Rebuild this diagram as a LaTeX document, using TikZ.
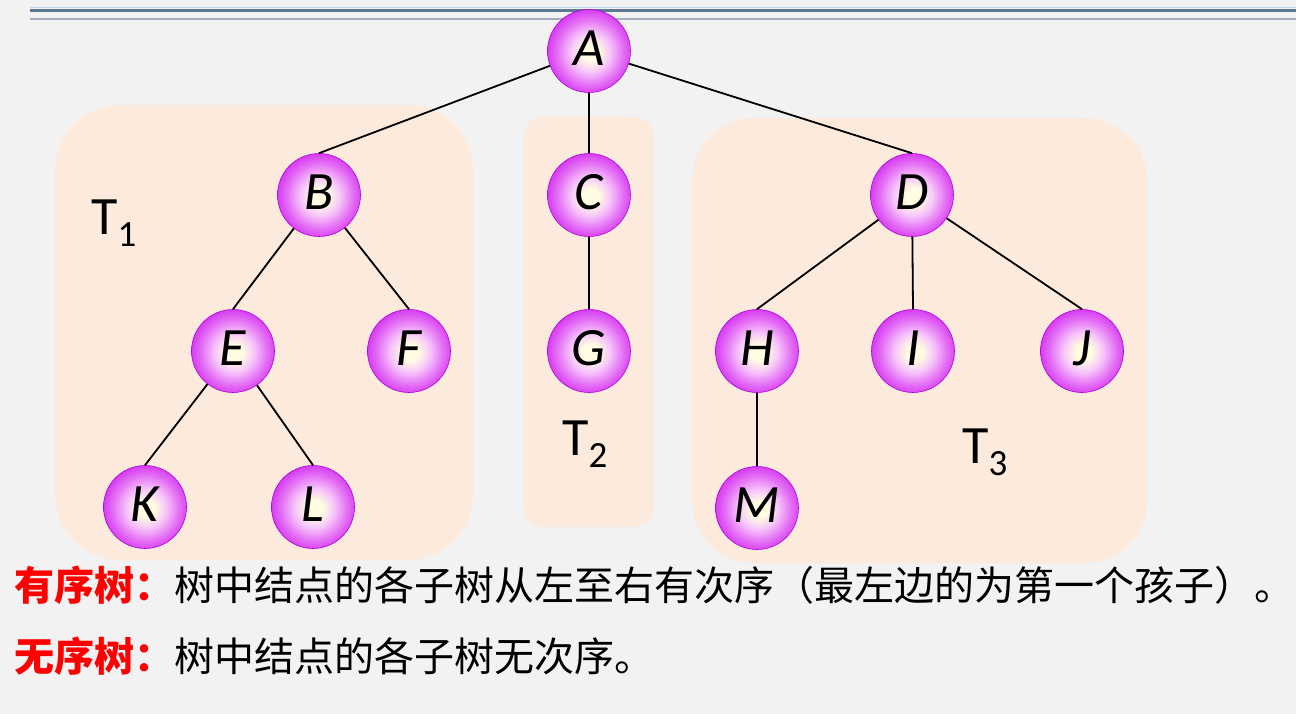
\documentclass[tikz,border=0pt]{standalone}
\usepackage{fontspec}
\setmainfont{Carlito}
\newfontfamily\cjk{Noto Sans CJK SC}
\definecolor{bgc}{HTML}{F2F2F2}
\definecolor{regionc}{HTML}{FCEADC}
\definecolor{lineA}{HTML}{BCD8F2}
\definecolor{lineB}{HTML}{5E7894}
\definecolor{lineC}{HTML}{A2ACBC}
\definecolor{ball0}{RGB}{255,252,225}
\definecolor{ball1}{RGB}{246,196,250}
\definecolor{ball2}{RGB}{228,110,245}
\definecolor{ball3}{RGB}{208,40,240}
\definecolor{ball4}{RGB}{188,0,226}
\definecolor{rim}{RGB}{176,0,214}
\pgfdeclareradialshading{nodeball}{\pgfpoint{1bp}{-1bp}}{%
  color(0bp)=(ball0); color(5bp)=(ball0); color(12bp)=(ball1);
  color(20bp)=(ball2); color(28bp)=(ball3); color(35bp)=(ball4); color(50bp)=(ball4)}
\tikzset{
  treenode/.style={circle, minimum size=83pt, inner sep=0pt, shade, shading=nodeball,
    draw=rim, line width=0.6pt,
    font=\fontsize{54}{60}\selectfont\itshape, text height=35pt, text depth=6pt},
  treeedge/.style={draw=black, line width=1.8pt},
  region/.style={fill=regionc},
  tlabel/.style={anchor=base west, inner sep=0pt, font=\fontsize{54}{60}\selectfont},
  textline/.style={anchor=base west, inner sep=0pt, font=\cjk\fontsize{40}{48}\selectfont}
}
\newcommand{\tsub}[1]{\raisebox{-12pt}{\fontsize{37}{40}\selectfont #1}}
\begin{document}
\begin{tikzpicture}[x=1pt,y=-1pt]
\useasboundingbox (0,0) rectangle (1296,714);
\fill[bgc] (0,0) rectangle (1296,714);
% header rules
\draw[lineA, line width=1.2pt] (30,7.8) -- (1296,7.8);
\draw[lineB, line width=3.2pt] (30,10.3) -- (1296,10.3);
\draw[lineC, line width=2pt] (30,18.7) -- (1296,18.7);
% subtree regions
\fill[region, rounded corners=65pt] (55,105) rectangle (473,560);
\fill[region, rounded corners=20pt] (523,117) rectangle (654,527);
\fill[region, rounded corners=62pt] (692,118) rectangle (1147,563);
% labels
\node[tlabel] (t1) at (91,235) {T\tsub{1}};
\node[tlabel] (t2) at (562,455) {T\tsub{2}};
\node[tlabel] (t3) at (962,463) {T\tsub{3}};
% nodes
\node[treenode] (A) at (589,51) {A};
\node[treenode] (B) at (319,195) {B};
\node[treenode] (C) at (589,195) {C};
\node[treenode] (D) at (912,195) {D};
\node[treenode] (E) at (233,351) {E};
\node[treenode] (F) at (409,351) {F};
\node[treenode] (G) at (589,351) {G};
\node[treenode] (H) at (757,351) {H};
\node[treenode] (I) at (913,351) {I};
\node[treenode] (J) at (1082,351) {J};
\node[treenode] (K) at (145,507) {K};
\node[treenode] (L) at (313,507) {L};
\node[treenode] (M) at (757,508) {M};
% edges
\foreach \p/\c in {A/B,A/C,A/D,B/E,B/F,C/G,D/H,D/I,D/J,E/K,E/L,H/M}
  \draw[treeedge] (\p) -- (\c.north);
% text
\node[textline] (line1) at (14,600) {{\bfseries\color{red}有序树：}树中结点的各子树从左至右有次序（最左边的为第一个孩子）。};
\node[textline] (line2) at (14,671) {{\bfseries\color{red}无序树：}树中结点的各子树无次序。};
\end{tikzpicture}
\end{document}
